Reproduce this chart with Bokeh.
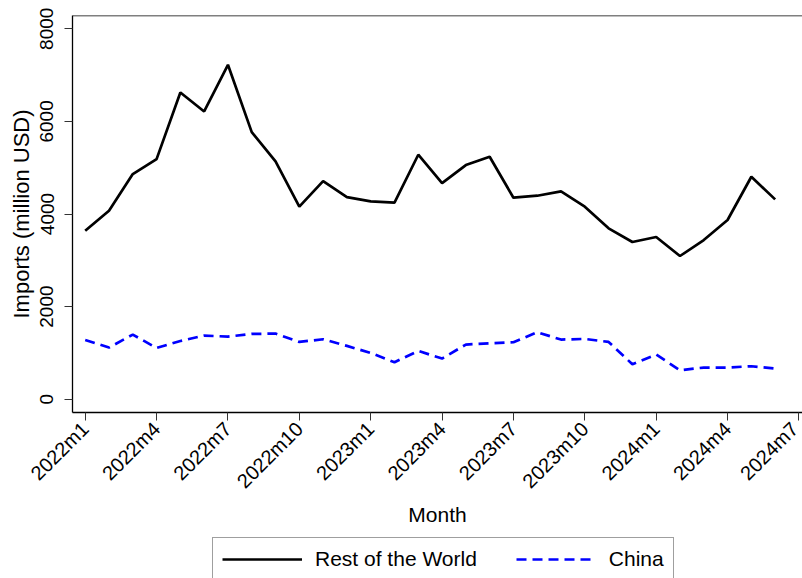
import math
from bokeh.plotting import figure
from bokeh.layouts import column
from bokeh.models import (ColumnDataSource, FixedTicker, LinearAxis, Legend, LegendItem, Range1d, Span)
from bokeh.embed import file_html
from bokeh.resources import INLINE

months = ["2022m1", "2022m2", "2022m3", "2022m4", "2022m5", "2022m6", "2022m7", "2022m8",
          "2022m9", "2022m10", "2022m11", "2022m12", "2023m1", "2023m2", "2023m3", "2023m4",
          "2023m5", "2023m6", "2023m7", "2023m8", "2023m9", "2023m10", "2023m11", "2023m12",
          "2024m1", "2024m2", "2024m3", "2024m4", "2024m5", "2024m6"]
rest_of_world = [3640, 4072, 4862, 5186, 6625, 6215, 7222, 5769, 5136, 4158,
                 4711, 4366, 4273, 4245, 5280, 4668, 5057, 5237, 4352, 4395,
                 4489, 4158, 3690, 3395, 3503, 3093, 3438, 3870, 4805, 4316]
china = [1280, 1115, 1396, 1107, 1258, 1374, 1352, 1410, 1417, 1237,
         1295, 1151, 1000, 798, 1043, 878, 1180, 1208, 1230, 1446,
         1288, 1302, 1237, 755, 964, 626, 684, 684, 712, 662]
x_tick_labels = ["2022m1", "2022m4", "2022m7", "2022m10", "2023m1", "2023m4",
                 "2023m7", "2023m10", "2024m1", "2024m4", "2024m7"]
y_ticks = [0, 2000, 4000, 6000, 8000]
series_names = ["Rest of the World", "China"]

idx = list(range(len(months)))
src = ColumnDataSource(dict(x=idx, month=months, row=rest_of_world, china=china))

FONT = "Liberation Sans"
Y_TOP = 8287
ROW_STYLE = dict(line_color="black", line_width=2.7)
CHN_STYLE = dict(line_color="#0000FF", line_width=2.7, line_dash="10 6")

p = figure(width=802, height=530, output_backend="svg", toolbar_location=None,
           x_range=Range1d(-0.534, 30.15), y_range=Range1d(-287, Y_TOP),
           x_axis_location=None, y_axis_location=None,
           min_border_left=72, min_border_right=0, min_border_top=15, min_border_bottom=118)
p.background_fill_color = "white"
p.border_fill_color = "white"
p.outline_line_color = None
p.xgrid.visible = False
p.ygrid.visible = False

p.line("x", "row", source=src, **ROW_STYLE)
p.line("x", "china", source=src, **CHN_STYLE)

# left axis
ya = LinearAxis(ticker=FixedTicker(ticks=y_ticks), axis_label="Imports (million USD)")
ya.major_label_orientation = "vertical"
ya.major_label_text_font = FONT
ya.major_label_text_font_size = "19px"
ya.major_label_text_color = "black"
ya.axis_label_text_font = FONT
ya.axis_label_text_font_size = "22px"
ya.axis_label_text_font_style = "normal"
ya.axis_label_text_color = "black"
ya.major_tick_out = 8
ya.major_tick_in = 0
ya.minor_tick_line_color = None
ya.major_label_standoff = 11
ya.axis_label_standoff = 4
ya.axis_line_color = "black"
ya.axis_line_width = 1.3
ya.major_tick_line_color = "#333333"
p.add_layout(ya, "left")

# bottom axis
xa = LinearAxis(ticker=FixedTicker(ticks=[0, 3, 6, 9, 12, 15, 18, 21, 24, 27, 30]), axis_label="Month")
xa.major_label_overrides = {i * 3: lab for i, lab in enumerate(x_tick_labels)}
xa.major_label_orientation = math.pi / 4
xa.major_label_text_font = FONT
xa.major_label_text_font_size = "20px"
xa.major_label_text_color = "black"
xa.axis_label_text_font = FONT
xa.axis_label_text_font_size = "21px"
xa.axis_label_text_font_style = "normal"
xa.axis_label_text_color = "black"
xa.major_tick_out = 8
xa.major_tick_in = 0
xa.minor_tick_line_color = None
xa.major_label_standoff = 5
xa.axis_label_standoff = 0
xa.axis_line_color = "black"
xa.axis_line_width = 1.3
xa.major_tick_line_color = "#333333"
p.add_layout(xa, "below")

# top border of the plot region
p.add_layout(Span(location=Y_TOP, dimension="width", line_color="black", line_width=1.3))

# legend strip below the chart (series drawn off-range so only the key shows)
p2 = figure(width=802, height=48, output_backend="svg", toolbar_location=None,
            x_range=Range1d(-100, -99), y_range=Range1d(-100, -99),
            x_axis_location=None, y_axis_location=None,
            min_border_left=0, min_border_right=0, min_border_top=0, min_border_bottom=0)
p2.outline_line_color = None
p2.xgrid.visible = False
p2.ygrid.visible = False
p2.background_fill_color = "white"
p2.border_fill_color = "white"
k1 = p2.line("x", "row", source=src, **ROW_STYLE)
k2 = p2.line("x", "china", source=src, **CHN_STYLE)

legend = Legend(items=[LegendItem(label=series_names[0], renderers=[k1]),
                       LegendItem(label=series_names[1], renderers=[k2])],
                orientation="horizontal", location=(140, -3))
legend.label_text_font = FONT
legend.label_text_font_size = "21px"
legend.label_text_color = "black"
legend.glyph_width = 80
legend.glyph_height = 22
legend.label_height = 22
legend.label_standoff = 13
legend.spacing = 39
legend.padding = 9
legend.margin = 0
legend.border_line_color = "#404040"
legend.border_line_width = 1
legend.background_fill_color = "white"
legend.background_fill_alpha = 1
p2.add_layout(legend, "center")

open("out.html", "w").write(file_html(column(p, p2, spacing=0), INLINE))
